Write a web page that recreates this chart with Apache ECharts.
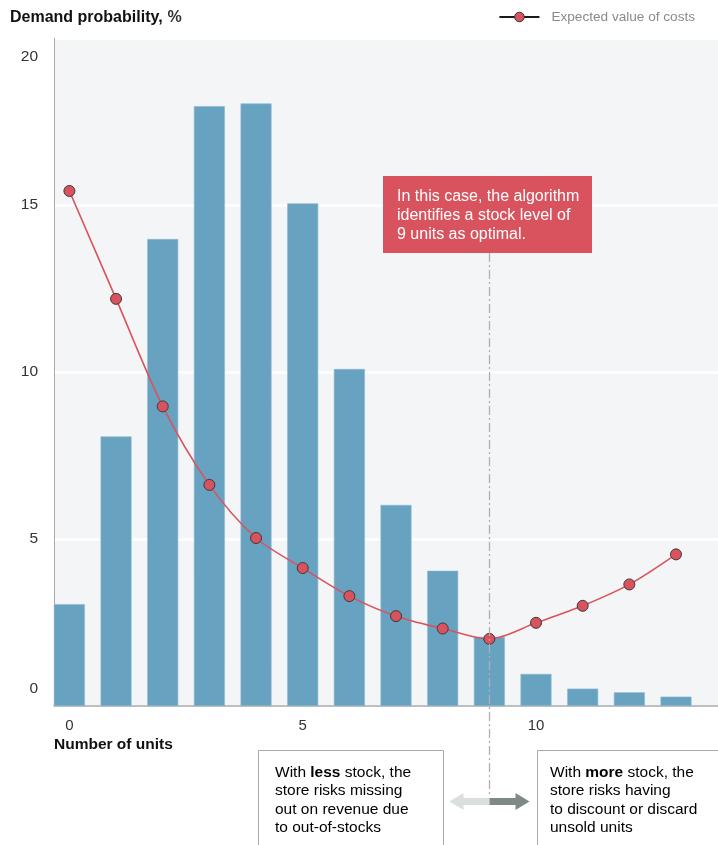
<!DOCTYPE html>
<html>
<head>
<meta charset="utf-8">
<script src="https://cdn.jsdelivr.net/npm/echarts@6/dist/echarts.min.js"></script>
<style>
html,body{margin:0;padding:0;background:#fff;}
#c{width:718px;height:845px;}
</style>
</head>
<body>
<div id="c"></div>
<script>
var units = [0,1,2,3,4,5,6,7,8,9,10,11,12,13];
var demandProb = [3.05,8.07,13.98,17.96,18.04,15.05,10.09,6.02,4.05,2.07,0.96,0.52,0.41,0.28];
var expectedCost = [15.42,12.19,8.97,6.62,5.03,4.13,3.29,2.69,2.32,2.01,2.49,3.0,3.64,4.54];
var xTickLabels = [0,5,10];
var yTicks = [0,5,10,15,20];
var optimalUnits = 9;

var FONT = "'Liberation Sans', Arial, Helvetica, sans-serif";
var RED = '#d9535e';
var BLUE = '#68a2c1';

var chart = echarts.init(document.getElementById('c'), null, {renderer:'canvas'});

var barData = units.map(function(u,i){return [u, demandProb[i]];});
var lineData = units.map(function(u,i){return [u, expectedCost[i]];});

chart.setOption({
  animation:false,
  textStyle:{fontFamily:FONT},
  title:[{
    text:'{b|Demand probability,} {n|%}',
    left:5, top:4,
    textStyle:{rich:{
      b:{fontFamily:FONT,fontWeight:'bold',fontSize:16,color:'#111'},
      n:{fontFamily:FONT,fontSize:16,color:'#333'}
    }}
  },{
    text:'Number of units',
    left:49, top:732,
    textStyle:{fontFamily:FONT,fontWeight:'bold',fontSize:15.5,color:'#111'}
  }],
  legend:{
    data:['Expected value of costs'],
    right:18, top:5,
    itemWidth:40, itemHeight:12,
    itemGap:10,
    textStyle:{fontFamily:FONT,fontSize:13.6,color:'#8a8a8a',padding:[0,0,0,7]},
    lineStyle:{color:'#1a1a1a',width:2},
    itemStyle:{color:RED,borderColor:'#333',borderWidth:1}
  },
  grid:{left:54,right:0,top:38,bottom:139,show:true,backgroundColor:'#f4f5f7',borderWidth:0},
  xAxis:{
    type:'value', min:-0.33, max:13.9,
    axisLine:{show:true,onZero:false,lineStyle:{color:'#aaaaaa',width:1.5}},
    axisTick:{show:false},
    splitLine:{show:false},
    axisLabel:{customValues:xTickLabels, fontFamily:FONT, fontSize:15, color:'#333', margin:12}
  },
  yAxis:{
    type:'value', min:0, max:20, interval:5,
    axisLine:{show:true,onZero:false,lineStyle:{color:'#aaaaaa',width:1}},
    axisTick:{show:false},
    splitLine:{show:true,lineStyle:{color:'#ffffff',width:2.5}},
    axisLabel:{
      margin:16, fontFamily:FONT, fontSize:15.5, color:'#333',
      formatter:function(v){
        if(v===yTicks[0]) return '{lo|'+v+'}';
        if(v===yTicks[yTicks.length-1]) return '{hi|'+v+'}';
        return '{m|'+v+'}';
      },
      rich:{
        lo:{fontFamily:FONT,fontSize:15.5,color:'#333',padding:[0,0,34,0]},
        hi:{fontFamily:FONT,fontSize:15.5,color:'#333',padding:[38,0,0,0]},
        m:{fontFamily:FONT,fontSize:15.5,color:'#333'}
      }
    }
  },
  series:[{
    name:'Demand probability',
    type:'bar',
    data:barData,
    barWidth:31,
    itemStyle:{color:BLUE,borderColor:'#8dbad2',borderWidth:0.6},
    z:2
  },{
    name:'Expected value of costs',
    type:'line',
    data:lineData,
    smooth:0.3,
    symbol:'circle',
    symbolSize:11,
    lineStyle:{color:RED,width:1.6},
    itemStyle:{color:RED,borderColor:'#3a3a3a',borderWidth:1},
    z:5
  }]
});

var px = chart.convertToPixel({xAxisIndex:0}, optimalUnits);
px = Math.round(px)+0.5;

var boxText = {fontFamily:FONT,fontSize:15.5,color:'#222'};
chart.setOption({
  graphic:[
    {type:'line', shape:{x1:px,y1:253,x2:px,y2:794}, style:{stroke:'#b0b0b0',lineWidth:1.3,lineDash:[9,3,2,3]}, z:10},
    {type:'rect', shape:{x:383,y:176,width:209,height:77}, style:{fill:'#d8535e'}, z:11},
    {type:'text', x:397, y:187, style:{text:'In this case, the algorithm\nidentifies a stock level of\n9 units as optimal.', fill:'#fff', font:'16px '+FONT, lineHeight:19}, z:12},
    {type:'rect', shape:{x:258.5,y:750.5,width:185,height:140}, style:{fill:'#fff',stroke:'#aaaaaa',lineWidth:1}, z:10},
    {type:'rect', shape:{x:537.5,y:750.5,width:200,height:140}, style:{fill:'#fff',stroke:'#aaaaaa',lineWidth:1}, z:10},
    {type:'text', x:275, y:763, style:{
      text:'{n|With }{b|less}{n| stock, the}\n{n|store risks missing}\n{n|out on revenue due}\n{n|to out-of-stocks}',
      rich:{n:Object.assign({lineHeight:18.5},boxText), b:Object.assign({lineHeight:18.5,fontWeight:'bold'},boxText)}
    }, z:12},
    {type:'text', x:550, y:763, style:{
      text:'{n|With }{b|more}{n| stock, the}\n{n|store risks having}\n{n|to discount or discard}\n{n|unsold units}',
      rich:{n:Object.assign({lineHeight:18.5},boxText), b:Object.assign({lineHeight:18.5,fontWeight:'bold'},boxText)}
    }, z:12},
    {type:'polygon', shape:{points:[[px,798],[px-26,798],[px-26,793],[px-40,801.5],[px-26,810],[px-26,805],[px,805]]}, style:{fill:'#dadedd'}, z:12},
    {type:'polygon', shape:{points:[[px,798],[px+26,798],[px+26,793],[px+40,801.5],[px+26,810],[px+26,805],[px,805]]}, style:{fill:'#7f8a87'}, z:12}
  ]
});
</script>
</body>
</html>
